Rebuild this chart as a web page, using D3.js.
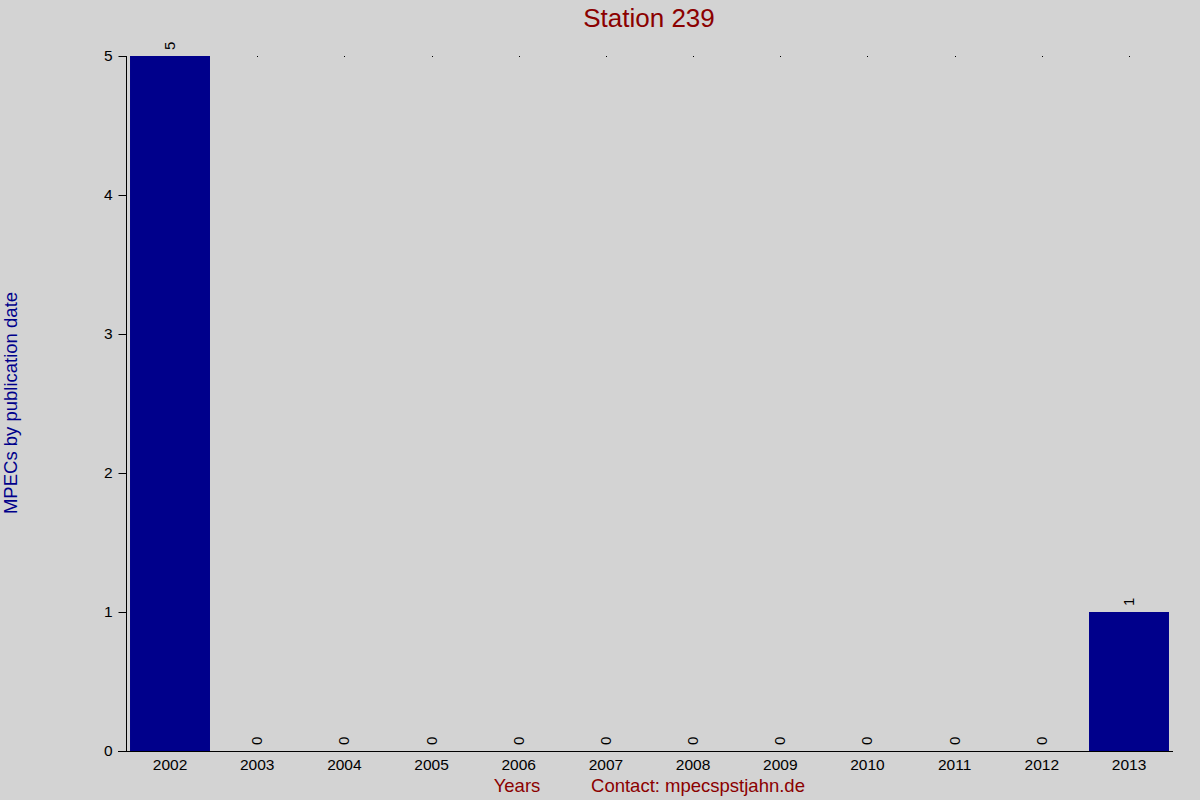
<!DOCTYPE html>
<html><head><meta charset="utf-8">
<script src="https://cdn.jsdelivr.net/npm/d3@7"></script>
<style>html,body{margin:0;padding:0;background:#d3d3d3;}svg{display:block;font-family:"Liberation Sans",Arial,sans-serif;}</style>
</head><body>
<script>
const years = ["2002","2003","2004","2005","2006","2007","2008","2009","2010","2011","2012","2013"];
const counts = [5,0,0,0,0,0,0,0,0,0,0,1];
const yTicks = [0,1,2,3,4,5];
const titleText = "Station 239";
const yLabel = "MPECs by publication date";
const xLabel = "Years";
const contact = "Contact: mpecspstjahn.de";

const W = 1200, H = 800;
const svg = d3.select("body").append("svg").attr("width", W).attr("height", H);
svg.append("rect").attr("width", W).attr("height", H).attr("fill", "#d3d3d3");

const x = d3.scaleBand().domain(years).range([126, 1173]).paddingInner(0.0826).paddingOuter(0.046);
const y = d3.scaleLinear().domain([0, 5]).range([751, 56]);

// small dots at top
svg.append("g").selectAll("rect").data(years).join("rect")
  .attr("x", d => Math.round(x(d) + x.bandwidth()/2)).attr("y", y(5))
  .attr("width", 1).attr("height", 1).attr("fill", "#000");

// bars
svg.append("g").selectAll("rect").data(years).join("rect")
  .attr("x", d => x(d)).attr("width", x.bandwidth())
  .attr("y", (d,i) => y(counts[i])).attr("height", (d,i) => y(0) - y(counts[i]))
  .attr("fill", "#00008b");

// y axis
const yAxis = svg.append("g").attr("transform", "translate(126.5,0)")
  .call(d3.axisLeft(y).tickValues(yTicks).tickSize(8).tickPadding(6).tickFormat(d3.format("d")));
yAxis.select(".domain").attr("d", `M0,${y(5)}V${y(0)}`).attr("stroke", "#000");
yAxis.selectAll("text").attr("font-size", 15.5).attr("fill", "#000").attr("font-family", "Liberation Sans, Arial, sans-serif");
yAxis.selectAll(".tick line").attr("stroke", "#000");

// x axis
const xAxis = svg.append("g").attr("transform", "translate(0,751.5)")
  .call(d3.axisBottom(x).tickSize(0).tickPadding(7));
xAxis.select(".domain").attr("d", "M118,0H1173").attr("stroke", "#000");
xAxis.selectAll("text").attr("font-size", 15.5).attr("fill", "#000").attr("font-family", "Liberation Sans, Arial, sans-serif");

// value labels
svg.append("g").selectAll("text").data(years).join("text")
  .attr("transform", (d,i) => `translate(${x(d) + x.bandwidth()/2 + 5},${y(counts[i]) - 6}) rotate(-90)`)
  .attr("font-size", 15).attr("fill", "#000")
  .text((d,i) => counts[i]);

// title
svg.append("text").attr("x", 649).attr("y", 27).attr("text-anchor", "middle")
  .attr("font-size", 26).attr("fill", "#8b0000").text(titleText);

// y label
svg.append("text").attr("transform", "translate(17,403) rotate(-90)").attr("text-anchor", "middle")
  .attr("font-size", 18.5).attr("fill", "#00008b").text(yLabel);

// x label and contact
svg.append("text").attr("x", 517).attr("y", 792).attr("text-anchor", "middle")
  .attr("font-size", 18.5).attr("fill", "#8b0000").text(xLabel);
svg.append("text").attr("x", 698).attr("y", 792).attr("text-anchor", "middle")
  .attr("font-size", 18.5).attr("fill", "#8b0000").text(contact);
</script>
</body></html>
